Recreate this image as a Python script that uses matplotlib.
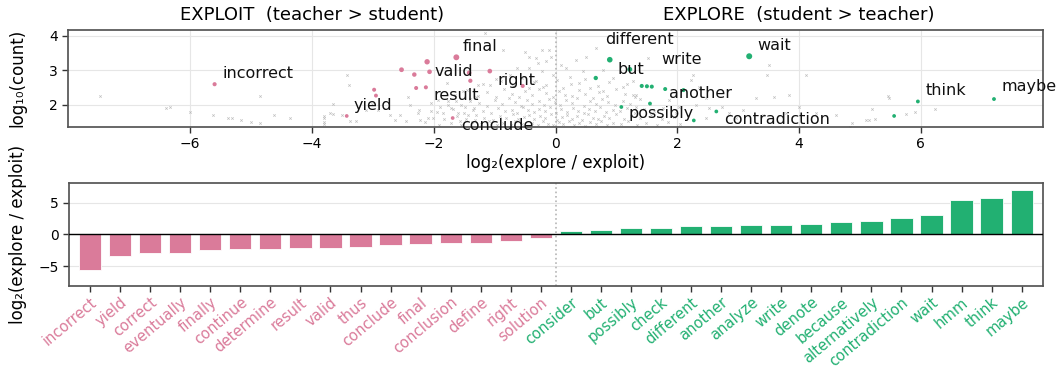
import numpy as np
import matplotlib.pyplot as plt

PINK = '#da7b9a'
GREEN = '#22b072'

# bar chart: log2(explore / exploit) per word
bar_words = ['incorrect', 'yield', 'correct', 'eventually', 'finally', 'continue',
             'determine', 'result', 'valid', 'thus', 'conclude', 'final',
             'conclusion', 'define', 'right', 'solution',
             'consider', 'but', 'possibly', 'check', 'different', 'another',
             'analyze', 'write', 'denote', 'because', 'alternatively',
             'contradiction', 'wait', 'hmm', 'think', 'maybe']
bar_vals = [-5.57, -3.38, -2.9, -2.9, -2.5, -2.34, -2.3, -2.08, -2.08, -2.03,
            -1.67, -1.56, -1.35, -1.35, -1.04, -0.52,
            0.47, 0.73, 0.94, 1.05, 1.25, 1.35, 1.4, 1.4, 1.67, 1.9, 2.1,
            2.5, 3.0, 5.4, 5.8, 7.0]

# highlighted words in the scatter
exploit_x = [-5.60, -3.43, -2.98, -2.95, -2.53, -2.32, -2.29, -2.11, -2.07, -2.13,
             -1.63, -1.42, -1.40, -1.69, -1.08, -0.54]
exploit_y = [2.60, 1.68, 2.44, 2.27, 3.02, 2.88, 2.49, 3.25, 2.96, 2.51,
             3.38, 2.93, 2.70, 1.62, 2.98, 2.55]
explore_x = [0.89, 1.22, 0.66, 1.08, 1.415, 1.50, 1.58, 1.80, 2.10, 1.55,
             2.27, 2.64, 3.18, 5.95, 5.56, 7.20]
explore_y = [3.31, 3.03, 2.78, 1.94, 2.55, 2.54, 2.53, 2.46, 2.43, 2.04,
             1.55, 1.81, 3.41, 2.10, 1.68, 2.17]

# all other words (log2 ratio, log10 count)
bg_pts = [
    (-7.49, 2.26), (-6.39, 1.92), (-6.33, 1.93), (-6.0, 1.80), (-5.62, 1.70), (-5.38, 1.62),
    (-5.32, 1.62), (-5.17, 1.56), (-5.0, 1.51), (-4.86, 1.49), (-4.85, 2.26), (-4.62, 1.71),
    (-4.36, 1.63), (-3.80, 1.63), (-3.80, 1.44), (-3.66, 1.75), (-3.12, 1.84),
    (-3.43, 2.87), (-3.40, 2.58), (-3.65, 2.03), (-3.80, 1.69), (-3.80, 1.50), (-3.70, 1.76),
    (-3.51, 1.71), (-3.38, 1.54), (-3.27, 1.52), (-3.02, 2.03), (-2.91, 1.86), (-2.72, 1.71),
    (-2.64, 1.57), (-2.56, 1.71), (-2.45, 1.52), (-2.42, 2.24), (-2.39, 2.00), (-2.26, 1.76),
    (-2.23, 1.57), (-2.15, 1.50), (-2.04, 1.81), (-2.01, 1.61), (-1.93, 2.14), (-1.90, 1.95),
    (-1.85, 1.76), (-1.79, 2.63), (-1.77, 2.00), (-1.71, 1.90), (-1.63, 2.10), (-1.60, 1.76),
    (-1.57, 1.52), (-1.52, 2.39), (-1.49, 1.95), (-1.44, 1.71), (-1.41, 2.10), (-1.36, 1.86),
    (-1.33, 1.57), (-1.30, 2.24), (-1.27, 2.58),
    (-1.16, 4.08), (-0.86, 3.59), (-0.51, 3.54), (-0.43, 3.40), (-0.32, 3.35), (-0.23, 3.59),
    (-0.10, 3.59), (-0.07, 3.40), (-0.29, 3.21), (-0.15, 3.26), (-0.43, 3.06), (-0.23, 2.97),
    (-0.04, 2.87), (0.17, 3.06), (0.34, 3.30), (0.50, 3.40), (0.67, 3.64), (0.78, 3.01),
    (0.45, 2.97), (0.23, 2.82), (0.09, 3.16), (-0.75, 2.87), (-0.64, 3.06), (-0.89, 2.68),
    (-1.08, 2.58), (-0.32, 2.68), (-0.15, 2.58), (-0.43, 2.48), (0.94, 2.77), (1.10, 2.53),
    (1.27, 2.68), (1.32, 2.29), (0.39, 2.63), (0.56, 2.48), (0.12, 2.48), (0.78, 2.39),
    (-1.92, 1.42), (-1.71, 1.47), (-1.55, 1.41), (-1.38, 1.50), (-1.22, 1.44), (-1.10, 1.53),
    (-0.97, 1.41), (-0.86, 1.48), (-0.74, 1.43), (-0.66, 1.52), (-0.55, 1.45), (-0.47, 1.40),
    (-0.38, 1.49), (-0.29, 1.43), (-0.21, 1.54), (-0.12, 1.46), (-0.04, 1.41), (0.05, 1.50),
    (0.13, 1.44), (0.22, 1.53), (0.31, 1.42), (0.39, 1.48), (0.48, 1.40), (0.57, 1.51),
    (0.66, 1.45), (0.75, 1.54), (0.84, 1.42), (0.95, 1.49), (1.07, 1.44), (1.19, 1.52),
    (1.33, 1.41), (1.48, 1.47), (1.66, 1.43), (1.85, 1.50), (2.05, 1.45),
    (-2.10, 1.62), (-1.83, 1.58), (-1.62, 1.68), (-1.47, 1.60), (-1.31, 1.72), (-1.18, 1.63),
    (-1.03, 1.57), (-0.92, 1.69), (-0.81, 1.61), (-0.70, 1.74), (-0.61, 1.58), (-0.52, 1.66),
    (-0.43, 1.71), (-0.35, 1.59), (-0.26, 1.67), (-0.17, 1.62), (-0.08, 1.73), (0.02, 1.57),
    (0.10, 1.65), (0.18, 1.70), (0.27, 1.60), (0.35, 1.68), (0.44, 1.56), (0.53, 1.73),
    (0.61, 1.63), (0.70, 1.58), (0.79, 1.69), (0.88, 1.61), (0.99, 1.74), (1.12, 1.59),
    (1.24, 1.67), (1.39, 1.62), (1.57, 1.71), (1.74, 1.58), (1.95, 1.66),
    (-2.25, 1.85), (-1.95, 1.80), (-1.68, 1.88), (-1.50, 1.78), (-1.34, 1.92), (-1.20, 1.83),
    (-1.06, 1.77), (-0.95, 1.90), (-0.83, 1.81), (-0.72, 1.86), (-0.63, 1.76), (-0.54, 1.93),
    (-0.45, 1.84), (-0.36, 1.79), (-0.27, 1.89), (-0.18, 1.82), (-0.09, 1.94), (0.00, 1.78),
    (0.09, 1.87), (0.19, 1.80), (0.28, 1.91), (0.37, 1.83), (0.46, 1.77), (0.55, 1.89),
    (0.64, 1.82), (0.73, 1.93), (0.83, 1.79), (0.94, 1.86), (1.05, 1.81), (1.17, 1.90),
    (1.30, 1.78), (1.45, 1.87), (1.62, 1.83),
    (-2.05, 2.05), (-1.76, 2.12), (-1.55, 2.00), (-1.40, 2.17), (-1.25, 2.06), (-1.12, 1.98),
    (-0.99, 2.13), (-0.88, 2.03), (-0.77, 2.19), (-0.66, 2.08), (-0.56, 1.97), (-0.47, 2.15),
    (-0.38, 2.04), (-0.28, 2.11), (-0.19, 1.99), (-0.10, 2.18), (-0.01, 2.07), (0.08, 2.01),
    (0.17, 2.14), (0.27, 2.05), (0.36, 2.19), (0.46, 1.98), (0.56, 2.10), (0.66, 2.03),
    (0.76, 2.16), (0.86, 2.07), (0.97, 1.99), (1.10, 2.12), (1.22, 2.04), (1.38, 2.17),
    (1.55, 2.02),
    (-1.65, 2.30), (-1.45, 2.42), (-1.28, 2.27), (-1.13, 2.38), (-0.98, 2.24), (-0.85, 2.46),
    (-0.72, 2.33), (-0.60, 2.22), (-0.50, 2.40), (-0.39, 2.29), (-0.27, 2.47), (-0.16, 2.35),
    (-0.05, 2.23), (0.06, 2.41), (0.16, 2.30), (0.27, 2.25), (0.38, 2.44), (0.49, 2.32),
    (0.61, 2.21), (0.72, 2.37), (0.85, 2.27), (0.99, 2.45), (1.14, 2.33), (1.30, 2.24),
    (-1.20, 2.62), (-0.98, 2.75), (-0.70, 2.56), (-0.55, 2.78), (-0.36, 2.65), (-0.20, 2.53),
    (0.02, 2.71), (0.25, 2.60), (0.48, 2.74), (0.70, 2.55), (0.88, 2.66), (1.18, 2.60),
    (1.51, 3.35), (2.25, 2.87), (2.22, 2.72), (2.36, 2.53), (2.47, 2.19), (2.31, 2.00),
    (2.52, 1.90), (2.74, 1.95), (2.85, 1.76), (3.07, 1.86), (3.29, 2.19), (3.48, 2.87),
    (3.51, 3.16), (3.59, 2.24), (3.84, 2.29), (4.11, 2.87), (4.00, 1.95), (4.27, 1.76),
    (3.78, 1.76), (3.40, 1.71), (2.96, 1.61), (2.47, 1.61), (2.03, 1.95), (1.98, 1.76),
    (1.76, 1.90), (1.87, 2.14), (1.32, 1.95), (1.27, 2.29),
    (4.61, 1.71), (4.86, 1.49), (5.09, 1.55), (5.15, 1.57), (5.19, 1.88), (5.25, 1.59),
    (5.46, 2.27), (5.75, 1.73), (5.90, 1.79), (6.23, 1.88), (4.83, 1.37), (5.48, 2.20),
]

# where the word labels sit (left edge, baseline), in data units
label_pos = {
    'incorrect': (-5.47, 2.79), 'yield': (-3.31, 1.855), 'final': (-1.52, 3.57),
    'valid': (-1.98, 2.85), 'result': (-2.0, 2.145), 'right': (-0.96, 2.58),
    'conclude': (-1.55, 1.27), 'different': (0.82, 3.77), 'but': (1.01, 2.90),
    'write': (1.74, 3.18), 'wait': (3.31, 3.59), 'another': (1.87, 2.19),
    'possibly': (1.19, 1.63), 'contradiction': (2.76, 1.44), 'think': (6.07, 2.29),
    'maybe': (7.32, 2.39),
}

plt.rcParams['font.family'] = 'DejaVu Sans'
fig = plt.figure(figsize=(10.63, 3.68), dpi=100)
ax1 = fig.add_axes([0.0644, 0.6549, 0.9165, 0.2644])
ax2 = fig.add_axes([0.0649, 0.2236, 0.916, 0.2783])


def style(ax):
    for sp in ax.spines.values():
        sp.set_color('#555555')
        sp.set_linewidth(1.25)
    ax.tick_params(length=4, width=1, color='#333333', labelsize=10)
    ax.set_axisbelow(True)


# ---- top: scatter
style(ax1)
ax1.grid(True, color='#e6e6e6', lw=0.8)
ax1.axvline(0, color='#b5b5b5', ls=':', lw=1.2, zorder=1)
bg = np.array(bg_pts)
ax1.scatter(bg[:, 0], bg[:, 1], s=3, marker='x', linewidths=0.5, color='#b0b0b0',
            alpha=0.8, zorder=2)


def sizes(y):
    return 7 + 10 ** np.array(y) / 220


ax1.scatter(exploit_x, exploit_y, s=sizes(exploit_y), color=PINK, zorder=3,
            edgecolors='none')
ax1.scatter(explore_x, explore_y, s=sizes(explore_y), color=GREEN, zorder=3,
            edgecolors='none')
for w, (tx, ty) in label_pos.items():
    ax1.text(tx, ty, w, fontsize=11.5, ha='left', va='baseline', color='#111111',
             clip_on=False, zorder=4)
ax1.set_xlim(-8, 8)
ax1.set_ylim(1.36, 4.18)
ax1.set_xticks([-6, -4, -2, 0, 2, 4, 6])
ax1.set_yticks([2, 3, 4])
ax1.set_xlabel('log₂(explore / exploit)', fontsize=12, labelpad=2)
ax1.set_ylabel('log₁₀(count)', fontsize=12)
for xc, title in [(-4, 'EXPLOIT  (teacher > student)'), (4, 'EXPLORE  (student > teacher)')]:
    ax1.annotate(title, xy=(xc, 1), xycoords=('data', 'axes fraction'),
                 xytext=(0, 4), textcoords='offset points', ha='center', va='bottom',
                 fontsize=13)

# ---- bottom: bars
style(ax2)
ax2.yaxis.grid(True, color='#e6e6e6', lw=0.8)
xs = np.arange(len(bar_words))
cols = [PINK if v < 0 else GREEN for v in bar_vals]
ax2.bar(xs, bar_vals, width=0.74, color=cols, edgecolor='white', linewidth=0.6, zorder=2)
ax2.axhline(0, color='black', lw=1, zorder=3)
ax2.axvline(15.5, color='#b5b5b5', ls=':', lw=1.2, zorder=1)
ax2.set_xlim(-0.7, len(bar_words) - 0.3)
ax2.set_ylim(-8.1, 8.05)
ax2.set_yticks([-5, 0, 5])
ax2.set_xticks(xs)
ax2.set_xticklabels(bar_words, rotation=40, ha='right', rotation_mode='anchor',
                    fontsize=10.6)
ax2.tick_params(axis='x', pad=2.5)
for lab, c in zip(ax2.get_xticklabels(), cols):
    lab.set_color(c)
ax2.set_ylabel('log₂(explore / exploit)', fontsize=12)

ax1.yaxis.set_label_coords(-0.043, 0.5)
ax2.yaxis.set_label_coords(-0.043, 0.5)
fig.savefig('out.png', dpi=100)
